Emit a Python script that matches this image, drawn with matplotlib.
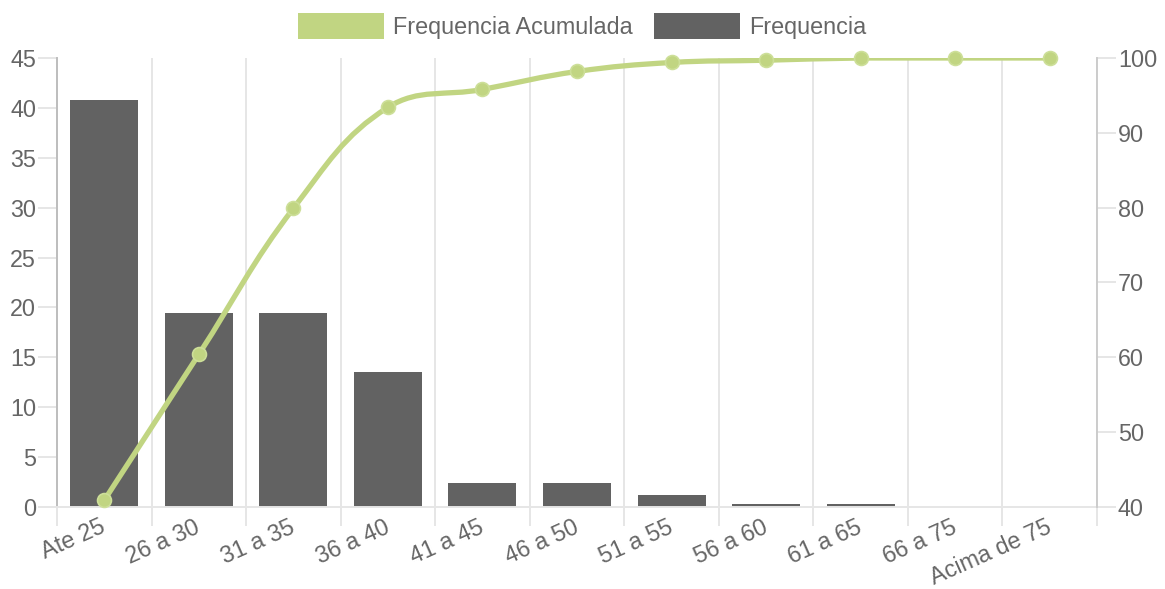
import numpy as np
import matplotlib
matplotlib.use('Agg')
import matplotlib.pyplot as plt
import matplotlib.transforms as mtransforms
from matplotlib.patches import Patch, PathPatch
from matplotlib.path import Path

plt.rcParams['font.family'] = ['Liberation Sans', 'DejaVu Sans']

CATEGORIAS = ['Ate 25', '26 a 30', '31 a 35', '36 a 40', '41 a 45', '46 a 50',
              '51 a 55', '56 a 60', '61 a 65', '66 a 75', 'Acima de 75']
FREQUENCIA = [40.8, 19.4, 19.4, 13.5, 2.4, 2.4, 1.2, 0.3, 0.3, 0, 0]
ACUMULADA = [40.9, 60.4, 79.9, 93.4, 95.8, 98.2, 99.4, 99.7, 100, 100, 100]

VERDE = '#c1d582'
CINZA = '#626262'
TEXTO = '#666666'
GRADE = '#e6e6e6'
FONTE = 16.8
LW_GRADE = 1.4


def curva_spline(ax, xs, ys, tensao=0.4):
    # curva no estilo do chart.js (controle calculado em pixels)
    pts = ax.transData.transform(np.column_stack([xs, ys]))
    n = len(pts)
    ctrl = []
    for i in range(n):
        cur = pts[i]
        ant = pts[i - 1] if i > 0 else cur
        prox = pts[i + 1] if i < n - 1 else cur
        d01 = np.hypot(*(cur - ant))
        d12 = np.hypot(*(prox - cur))
        tot = d01 + d12
        s01 = d01 / tot if tot else 0
        s12 = d12 / tot if tot else 0
        ctrl.append((cur - tensao * s01 * (prox - ant), cur + tensao * s12 * (prox - ant)))
    verts = [pts[0]]
    codes = [Path.MOVETO]
    for i in range(1, n):
        verts += [ctrl[i - 1][1], ctrl[i][0], pts[i]]
        codes += [Path.CURVE4] * 3
    verts = ax.transData.inverted().transform(np.array(verts))
    lo, hi = ax.get_ylim()
    verts[:, 1] = np.clip(verts[:, 1], lo, hi)
    return Path(verts, codes)


def main():
    fig = plt.figure(figsize=(11.65, 5.89), dpi=100)
    ax = fig.add_axes([57 / 1165, 1 - 507 / 589, 1040 / 1165, 449 / 589])
    ax2 = ax.twinx()

    x = np.arange(len(CATEGORIAS))
    ax.bar(x, FREQUENCIA, width=0.72, color=CINZA, zorder=2)
    ax.set_xlim(-0.5, len(CATEGORIAS) - 0.5)
    ax.set_ylim(0, 45)
    ax.set_yticks(np.arange(0, 46, 5))
    ax.set_xticks(x)
    ax.set_xticklabels(CATEGORIAS, rotation=24, ha='right', rotation_mode='anchor', va='top')
    ax.set_xticks(np.arange(-0.5, len(CATEGORIAS), 1), minor=True)
    ax.grid(which='minor', axis='x', color=GRADE, lw=LW_GRADE, zorder=0)
    ax.set_axisbelow(True)

    ax.tick_params(axis='x', which='major', length=0, pad=9, labelsize=FONTE, labelcolor=TEXTO)
    ax.tick_params(axis='x', which='minor', length=13.7, width=LW_GRADE, color=GRADE)
    ax.tick_params(axis='y', length=13.7, width=LW_GRADE, color=GRADE, pad=1.4,
                   labelsize=FONTE, labelcolor=TEXTO)

    ax2.set_ylim(40, 100)
    ax2.set_yticks(np.arange(40, 101, 10))
    ax2.tick_params(axis='y', length=13.7, width=LW_GRADE, color=GRADE, pad=1.4,
                    labelsize=FONTE, labelcolor=TEXTO)

    for s in ['top', 'right']:
        ax.spines[s].set_visible(False)
    for s in ['top', 'left', 'bottom']:
        ax2.spines[s].set_visible(False)
    ax.spines['left'].set_color('#bdbdbd')
    ax.spines['left'].set_linewidth(LW_GRADE)
    ax.spines['bottom'].set_color(GRADE)
    ax.spines['bottom'].set_linewidth(LW_GRADE)
    ax2.spines['right'].set_color('#cccccc')
    ax2.spines['right'].set_linewidth(LW_GRADE)

    minors = ax.xaxis.get_minor_ticks()
    minors[0].tick1line.set_color('#bdbdbd')
    minors[-1].tick1line.set_color('#cccccc')

    caminho = curva_spline(ax2, x, ACUMULADA)
    ax2.add_patch(PathPatch(caminho, fill=False, edgecolor=VERDE, lw=3.8,
                            capstyle='round', joinstyle='round', zorder=3))
    ax2.plot(x, ACUMULADA, 'o', color=VERDE, mec='#cddf99', mew=1.2, ms=10,
             zorder=4, clip_on=False)

    handles = [Patch(facecolor=VERDE, edgecolor='none', label='Frequencia Acumulada'),
               Patch(facecolor=CINZA, edgecolor='none', label='Frequencia')]
    leg = fig.legend(handles=handles, loc='center', bbox_to_anchor=(0.5, 1 - 26 / 589),
                     ncol=2, frameon=False, fontsize=FONTE, handlelength=3.69,
                     handleheight=1.29, handletextpad=0.39, columnspacing=0.9)
    for t in leg.get_texts():
        t.set_color(TEXTO)

    # pequeno ajuste dos rotulos do eixo x
    fig.canvas.draw()
    desloc = mtransforms.ScaledTranslation(-0.045, 0.04, fig.dpi_scale_trans)
    for tick in ax.xaxis.get_major_ticks():
        tick.label1.set_transform(tick.label1.get_transform() + desloc)

    fig.savefig('out.png', dpi=100)


if __name__ == '__main__':
    main()
